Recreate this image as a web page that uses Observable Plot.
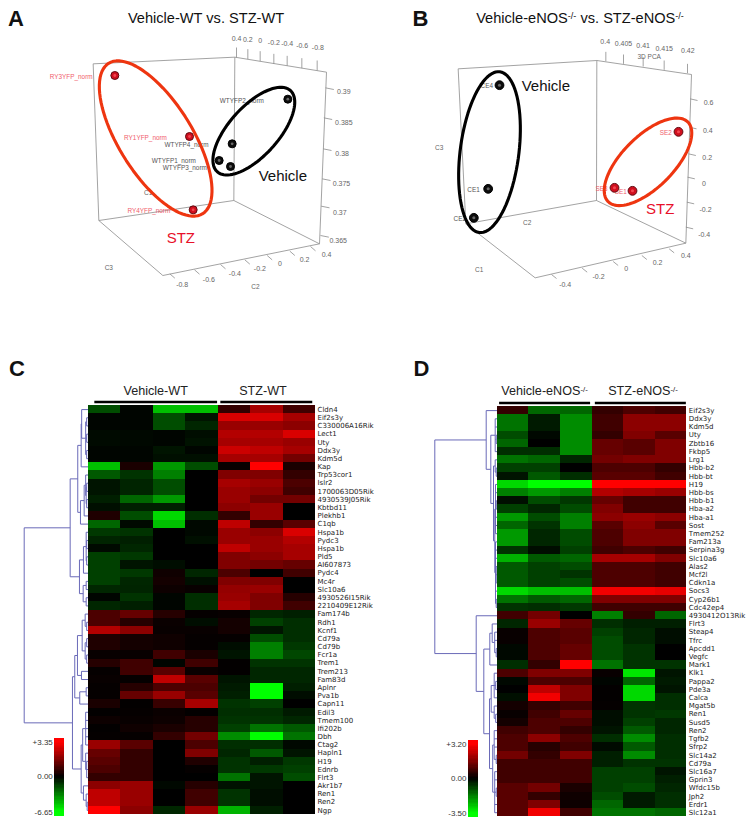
<!DOCTYPE html>
<html>
<head>
<meta charset="utf-8">
<script src="https://cdn.jsdelivr.net/npm/d3@7"></script>
<script src="https://cdn.jsdelivr.net/npm/@observablehq/plot@0.6"></script>
<style>
html,body{margin:0;padding:0;background:#fff;}
#page{position:relative;width:754px;height:825px;overflow:hidden;font-family:"Liberation Sans",Arial,sans-serif;color:#111;}
.t{position:absolute;white-space:nowrap;line-height:1;}
.letter{font-weight:bold;font-size:22px;color:#111;}
.title{font-size:14.6px;transform:translateX(-50%);}
.head{font-size:12.6px;transform:translateX(-50%);color:#222;}
sup{font-size:62%;line-height:0;vertical-align:baseline;position:relative;top:-.45em;}
svg{position:absolute;overflow:visible;}
</style>
</head>
<body>
<div id="page"></div>
<script>
// ---------- Panel C: expression levels, % of full colour (+ red / - green)
const cMin = -6.65, cMax = 3.35;
const cGenes = ["Cldn4","Eif2s3y","C330006A16Rik","Lect1","Uty","Ddx3y","Kdm5d","Kap","Trp53cor1","Islr2","1700063D05Rik","4930539J05Rik","Kbtbd11","Plekhb1","C1qb","Hspa1b","Pydc3","Hspa1b","Pld5","AI607873","Pydc4","Mc4r","Slc10a6","4930526I15Rik","2210409E12Rik","Fam174b","Rdh1","Kcnf1","Cd79a","Cd79b","Fcr1a","Trem1","Trem213","Fam83d","Aplnr","Pva1b","Capn11","Edil3","Tmem100","Ifi202b","Dbh","Ctag2","Hapln1","H19","Ednrb","Flrt3","Akr1b7","Ren1","Ren2","Ngp"];
const cLevels = [
[-30,-2,-75,-75,20,65,25],[-2,-2,-30,-8,85,85,65],[-2,-2,-30,-15,60,60,55],[-4,-3,-2,-5,70,70,85],[-4,-3,-2,-7,65,65,60],
[-2,-2,-8,-2,80,75,65],[-2,-2,-6,-6,65,65,45],[-75,10,-60,-30,3,100,10],[-35,-20,-50,0,50,50,20],[-8,-14,-30,0,65,60,30],
[-8,-14,-30,0,60,55,25],[-12,-40,-60,0,60,45,45],[-6,-12,-12,0,55,60,0],[12,-30,-85,-18,20,60,0],[-40,-4,-75,-3,75,20,35],
[-22,-20,0,-3,60,55,85],[-14,-12,0,-6,60,60,70],[-4,-15,0,0,75,60,65],[-25,-22,0,0,50,55,65],[-25,-8,-5,0,50,45,40],
[-25,-22,6,-15,30,0,25],[-25,-15,8,-6,50,50,0],[-15,-14,5,3,58,60,0],[-2,-20,-2,-18,60,50,15],[-15,-12,-2,-18,65,50,25],
[30,40,15,2,3,-15,-12],[30,15,4,-5,8,-25,-18],[70,55,3,3,8,-8,-18],[12,8,6,2,2,-30,-18],[12,8,6,2,-5,-50,-22],
[3,3,25,10,-8,-50,-28],[15,25,-2,25,1,-20,-20],[2,25,35,4,1,-15,-15],[3,2,75,35,-8,-15,-15],[2,15,30,30,-10,-100,-12],
[2,40,60,35,-12,-100,-5],[10,1,22,65,-20,-25,0],[1,2,4,1,-18,-18,-10],[5,3,5,15,-20,-20,-15],[1,6,10,15,-25,-45,-35],
[2,2,20,45,-55,-100,-45],[60,35,0,30,-18,-18,-3],[40,20,0,50,-15,-35,-8],[35,20,0,12,-20,-12,-22],[30,20,0,2,-20,-22,-25],
[20,20,0,0,-45,-8,-30],[55,60,-3,15,-7,-8,0],[75,60,0,25,-20,-5,0],[75,60,0,25,-20,-5,0],[100,55,-15,60,-70,-12,0]];
// nested clusters: [merge distance, ...children]; a number is a row
const cTree = [64,
 [18,
  [10.4,
   [7,[6.5,0,[2.5,[1.5,1,2],[1.5,3,4],[1.5,5,6]]],7],
   [7.7,[4,[2.5,8,[2,[1.5,9,10],[1.5,11,12]]],13],14]],
  [8.7,
   [4.7,[2,15,[1.5,16,17],[1.5,18,19]],20],
   [5,[2,21,22],[2,23,24]]]],
 [15.7,
  [13.4,
   [10.7,[6,[3,25,[1.5,26,27]],[3,[1.5,28,29],[1.5,30,31]]],[6.7,32,33]],
   [8.4,[2,34,35],36]],
  [7,
   [5.5,[2.5,37,38,39,40,41],[2.5,42,[1.5,43,44,45]]],
   [4.7,46,[2,47,[1,48,49]]]]]];

// ---------- Panel D
const dMin = -3.5, dMax = 3.2;
const dGenes = ["Eif2s3y","Ddx3y","Kdm5d","Uty","Zbtb16","Fkbp5","Lrg1","Hbb-b2","Hbb-bt","H19","Hbb-bs","Hbb-b1","Hba-a2","Hba-a1","Sost","Tmem252","Fam213a","Serpina3g","Slc10a6","Alas2","Mcf2l","Cdkn1a","Socs3","Cyp26b1","Cdc42ep4","4930412O13Rik","Flrt3","Steap4","Tfrc","Apcdd1","Vegfc","Mark1","Klk1","Pappa2","Pde3a","Calca","Mgat5b","Ren1","Susd5","Ren2","Tgfb2","Sfrp2","Slc14a2","Cd79a","Slc16a7","Gprin3","Wfdc15b","Jph2","Erdr1","Slc12a1"];
const dLevels = [
[20,-40,-40,20,30,25],[-45,-10,-55,25,55,55],[-45,-10,-55,25,55,55],[-30,-3,-55,20,50,35],[-40,0,-55,40,35,50],
[-18,-18,-55,40,35,50],[-45,-40,-15,45,50,50],[-25,-25,0,30,30,20],[-8,-35,-18,35,35,25],[-85,-100,-100,100,100,100],
[-50,-60,-50,70,65,60],[-6,-30,-22,40,25,25],[-25,-15,-30,50,25,25],[-60,-30,-50,55,60,55],[-40,-20,-50,35,55,35],
[-60,-15,-30,30,50,50],[-60,-15,-30,30,50,50],[-20,-5,-25,25,30,25],[-70,-35,-40,65,65,50],[-35,-25,-30,30,30,25],
[-35,-25,-20,30,30,25],[-35,-25,-30,30,30,25],[-85,-75,-75,95,95,90],[-45,-35,-40,50,50,50],[-20,-18,-22,25,25,25],
[25,45,0,-50,20,-40],[-15,60,40,-18,-12,-12],[3,30,35,-25,-15,-5],[3,30,35,-30,-15,-5],[-3,30,40,-30,-20,0],
[-3,30,40,-30,-20,0],[-18,20,100,-45,-20,-20],[30,50,50,3,-90,-8],[-3,30,30,-2,-40,-10],[0,75,50,1,-85,-8],
[-6,95,50,1,-85,-18],[8,20,25,2,-20,-18],[3,25,40,-5,-20,-22],[8,30,30,-5,-25,-15],[25,30,20,-8,-35,-15],
[30,55,30,-18,-55,-18],[30,15,25,-4,-35,-18],[45,20,50,-12,-55,-18],[25,25,25,-12,-20,-20],[25,25,25,-25,-25,-8],
[25,25,25,-25,-25,-12],[35,45,10,-25,-30,-15],[35,20,6,-30,-10,-18],[35,50,5,-40,-10,-18],[35,95,25,-45,-45,-40]];
const dTree = [62.4,
 [11,0,
  [6.4,
   [2,1,2,[1,3,4],5],
   [3.7,
    [2,6,[1,7,8]],
    [2.4,[1.7,9,10,[1,11,12],13,14,15],[1.7,16,17,18,[1,19,20,21],22,[1,23,24]]]]]],
 [21,25,
  [13.4,
   [7.4,[5,26,[2.5,27,28,[1,29,30]]],31],
   [7.7,
    [6,[3,32,[1.5,33,34],35],[3,36,[1.5,37,38]]],
    [4.5,[3,39,40,41,[1,42,43]],[2.5,44,45,[1,46,47],48,49]]]]]];

// ---------- Panels A and B: 3D PCA, read in projected scene units
const aRed = [["RY3YFP_norm",343,225],["RY1YFP_norm",567,408],["RY4YFP_norm",578,628]];
const aBlack = [["WTYFP2_norm",862,296],["WTYFP4_norm",695,430],["WTYFP1_norm",656,480],["WTYFP3_norm",690,498]];
const aLabels = [["RY3YFP_norm",212,229,"r"],["RY1YFP_norm",435,412,"r"],["RY4YFP_norm",445,632,"r"],["WTYFP2_norm",724,300,"k"],["WTYFP4_norm",558,433,"k"],["WTYFP1_norm",520,482,"k"],["WTYFP3_norm",553,503,"k"]];
const aBox = {TL:[278,190],TB:[703,170],TR:[978,215],BL:[295,660],BB:[700,600],BR:[957,730],F:[487,825]};
const aTop = [["0.4",708,171,708,115],["0.2",742,176,742,118],["0",779,182,779,122],["-0.2",820,190,820,127],["-0.4",860,196,860,131],["-0.6",904,203,905,135],["-0.8",950,210,952,141]];
const aRight = [["0.39",975,262,1030,273],["0.385",970,352,1030,367],["0.38",968,445,1025,460],["0.375",965,535,1023,549],["0.37",962,617,1018,637],["0.365",960,705,1013,722]];
const aBottom = [["-0.8",508,820,545,853],["-0.6",582,808,625,838],["-0.4",660,792,703,820],["-0.2",733,778,778,805],["0",800,765,838,790],["0.2",868,752,912,777],["0.4",930,738,978,762]];
const aAxisNames = [["C3",325,803],["C2",765,860],["C1",443,577]];
const aGroups = [["Vehicle",847,527,"k"],["STZ",541,712,"r"]];
const aRings = [[465.5,414,266,110,58,"r"],[760,392,164,74,-48,"k"]];

const bRed = [["SE2",903,394],["SE3",711,562],["SE1",765,571]];
const bBlack = [["CE4",366,254],["CE1",332,565],["CE2",289,652]];
const bLabels = [["CE4",328,257,"k"],["CE1",288,569,"k"],["CE2",247,656,"k"],["SE2",865,397,"r"],["SE3",672,565,"r"],["SE1",730,573,"r"]];
const bBox = {TL:[242,205],TB:[658,180],TR:[942,222],BL:[265,670],BB:[657,600],BR:[925,728],F:[473,832]};
const bTop = [["0.4",685,182,683,125],["0.405",738,190,738,131],["0.41",797,198,797,137],["0.415",860,208,860,145],["0.42",930,218,931,152]];
const bRight = [["0.6",938,295,993,308],["0.4",935,380,991,391],["0.2",933,460,989,471],["0",930,530,979,550],["-0.2",928,605,984,627],["-0.4",925,680,980,702]];
const bBottom = [["-0.4",522,822,563,852],["-0.2",614,803,663,829],["0",707,783,746,806],["0.2",793,765,840,786],["0.4",875,745,925,765]];
const bAxisNames = [["C3",185,443],["C2",449,668],["C1",305,808],["3D PCA",815,168]];
const bGroups = [["Vehicle",505,258,"k"],["STZ",848,625,"r"]];
const bRings = [[336,455,243,88,-82.7,"k"],[811.5,484,169,77,-45,"r"]];

// ---------- builders
const page = document.getElementById("page");
const SANS = '"Liberation Sans",Arial,sans-serif';
const ringColor = {r:"#ee3510",k:"#000"};

function place(svg,left,top){svg.style.position="absolute";svg.style.left=left+"px";svg.style.top=top+"px";svg.style.background="transparent";svg.style.maxWidth="none";svg.style.overflow="visible";page.appendChild(svg);}
function addText(cls,html,left,top){const d=document.createElement("div");d.className="t "+cls;d.innerHTML=html;d.style.left=left+"px";d.style.top=top+"px";page.appendChild(d);}

function ringPoints([cx,cy,a,b,deg,key]){
  const th=deg*Math.PI/180;
  return d3.range(0,361,4).map(t=>{const u=t*Math.PI/180,p=a*Math.cos(u),q=b*Math.sin(u);
    return {x:cx+p*Math.cos(th)-q*Math.sin(th),y:cy+p*Math.sin(th)+q*Math.cos(th),key};});
}
function scene(c,left){
  const {TL,TB,TR,BL,BB,BR,F}=c.box;
  const edges=[[TL,TB],[TB,TR],[TR,BR],[TB,BB],[TL,BL],[BL,BB],[BB,BR],[BL,F],[F,BR]];
  const tickSegs=(arr,v)=>arr.map(([,x,y])=>[[x,y],[x+v[0],y+v[1]]]);
  const segs=edges.concat(tickSegs(c.top,c.topVec),tickSegs(c.right,c.rightVec),tickSegs(c.bottom,c.bottomVec));
  const tickLabels=[...c.top,...c.right,...c.bottom];
  const dot=(rows,fill,stroke,inner,r)=>[
    Plot.dot(rows,{x:d=>d[1],y:d=>d[2],r,fill,stroke,strokeWidth:1}),
    Plot.dot(rows,{x:d=>d[1],y:d=>d[2],r:r*0.35,fill:inner})];
  const svg=Plot.plot({
    width:377,height:300,margin:0,
    x:{domain:[0,1131],axis:null},y:{domain:[900,0],axis:null},
    style:{fontFamily:SANS,background:"transparent"},
    marks:[
      Plot.link(segs,{x1:d=>d[0][0],y1:d=>d[0][1],x2:d=>d[1][0],y2:d=>d[1][1],stroke:"#8c8c8c",strokeWidth:0.8}),
      Plot.text(tickLabels,{x:d=>d[3],y:d=>d[4],text:d=>d[0],fontSize:7,fill:"#666"}),
      Plot.text(c.axisNames,{x:d=>d[1],y:d=>d[2],text:d=>d[0],fontSize:6.5,fill:"#666"}),
      Plot.text(c.labels,{x:d=>d[1],y:d=>d[2],text:d=>d[0],fontSize:6.4,fill:d=>d[3]==="r"?"#f0606c":"#555"}),
      ...dot(c.red,"#d00f1e","#5e0a10","#f24650",c.r),
      ...dot(c.black,"#0c0c0c","#000","#666",c.r),
      ...c.rings.map(r=>Plot.line(ringPoints(r),{x:"x",y:"y",stroke:ringColor[r[5]],strokeWidth:3.1})),
      Plot.text(c.groups,{x:d=>d[1],y:d=>d[2],text:d=>d[0],fontSize:15,fill:d=>d[3]==="r"?"#e8102a":"#111"})
    ]});
  place(svg,left,0);
}

function treeSegments(tree,colW){
  const segs=[];
  const X=d=>-d/colW;
  (function walk(n){
    if(typeof n==="number") return {y:n+.5,d:0};
    const [d,...kids]=n;
    const r=kids.map(walk);
    r.forEach(k=>segs.push({x1:X(d),y1:k.y,x2:X(k.d),y2:k.y}));
    const y1=r[0].y,y2=r[r.length-1].y;
    segs.push({x1:X(d),y1,x2:X(d),y2});
    return {y:(y1+y2)/2,d};
  })(tree);
  return segs;
}
function heatmap(c){
  const val=s=>s>0?s/100*c.max:s/100*-c.min;
  const cells=c.levels.flatMap((row,r)=>row.map((s,k)=>({r,k,v:val(s)})));
  const maxD=c.tree[0];
  const svg=Plot.plot({
    width:c.width,height:c.height,marginTop:c.mt,marginBottom:c.mb,marginLeft:c.ml,marginRight:c.mr,
    x:{domain:[-maxD/c.colW,c.levels[0].length],axis:null},
    y:{domain:[0,c.genes.length],reverse:true,axis:null},
    color:{type:"linear",domain:[c.min,0,c.max],range:["#00ff00","#000000","#ff0000"],interpolate:"rgb"},
    style:{fontFamily:'"DejaVu Sans",sans-serif',background:"transparent"},
    marks:[
      Plot.link(treeSegments(c.tree,c.colW),{x1:"x1",y1:"y1",x2:"x2",y2:"y2",stroke:"#6a6ab8",strokeWidth:1}),
      Plot.rect(cells,{x1:"k",x2:d=>d.k+1,y1:"r",y2:d=>d.r+1,fill:"v",shapeRendering:"crispEdges"}),
      Plot.axisY(c.genes.map((_,i)=>i+.5),{anchor:"right",tickSize:0,tickPadding:2,tickFormat:v=>c.genes[Math.floor(v)],fontSize:7,fill:"#222",label:null}),
      Plot.link(c.bars,{x1:d=>d[0],x2:d=>d[1],y1:-0.42,y2:-0.42,stroke:"#000",strokeWidth:2.6})
    ]});
  place(svg,c.left,c.top);
}
function legend(c){
  const steps=30;
  const over=c.over,under=c.under;
  const pos=d3.range(steps).map(i=>({a:(c.max+over)*i/steps,b:(c.max+over)*(i+1)/steps}));
  const neg=d3.range(steps).map(i=>({a:(c.min-under)*i/steps,b:(c.min-under)*(i+1)/steps}));
  const fmt=new Map(c.ticks.map(t=>[t[0],t[1]]));
  const svg=Plot.plot({
    width:c.barRight-c.left,height:95,marginLeft:c.barLeft-c.left,marginRight:0,
    x:{domain:[0,1],axis:null},
    y:{type:"linear",domain:[c.min,0,c.max],range:c.range,axis:null},
    color:{type:"linear",domain:[c.min,0,c.max],range:["#00ff00","#000000","#ff0000"],interpolate:"rgb",clamp:true},
    style:{fontFamily:SANS,background:"transparent"},
    marks:[
      Plot.rect(pos.concat(neg),{x1:0,x2:1,y1:"a",y2:"b",fill:d=>(d.a+d.b)/2,shapeRendering:"crispEdges"}),
      Plot.axisY(c.ticks.map(t=>t[0]),{anchor:"left",tickSize:0,tickPadding:2,tickFormat:v=>fmt.get(v),fontSize:8,fill:"#333",label:null})
    ]});
  place(svg,c.left,c.top);
}

// ---------- draw
scene({box:aBox,top:aTop,right:aRight,bottom:aBottom,topVec:[0,-30],rightVec:[25,5],bottomVec:[15,13],axisNames:aAxisNames,labels:aLabels,red:aRed,black:aBlack,rings:aRings,groups:aGroups,r:4},0);
scene({box:bBox,top:bTop,right:bRight,bottom:bBottom,topVec:[0,-28],rightVec:[22,5],bottomVec:[15,12],axisNames:bAxisNames,labels:bLabels,red:bRed,black:bBlack,rings:bRings,groups:bGroups,r:4.4},377);

heatmap({left:0,top:390,width:377,height:435,mt:15,mb:11,ml:23.7,mr:62,colW:32.5,min:cMin,max:cMax,genes:cGenes,levels:cLevels,tree:cTree,bars:[[0.19,3.97],[4.07,6.9]]});
heatmap({left:377,top:391,width:377,height:434,mt:15,mb:8.7,ml:57.3,mr:67.7,colW:31.6,min:dMin,max:dMax,genes:dGenes,levels:dLevels,tree:dTree,bars:[[0.06,2.94],[3.09,5.97]]});

legend({left:0,top:730,barLeft:54.3,barRight:64,min:cMin,max:cMax,over:0.39,under:0.75,range:[81.7,46.3,12.3],ticks:[[cMax,"+3.35"],[0,"0.00"],[cMin,"-6.65"]]});
legend({left:420,top:730,barLeft:468,barRight:477.7,min:dMin,max:dMax,over:0.4,under:0.4,range:[83.3,48.3,14],ticks:[[dMax,"+3.20"],[0,"0.00"],[dMin,"-3.50"]]});

addText("letter","A",8,8);
addText("letter","B",412.5,8);
addText("letter","C",9,358);
addText("letter","D",413.5,358);
addText("title","Vehicle-WT vs. STZ-WT",206,11);
addText("title","Vehicle-eNOS<sup>-/-</sup> vs. STZ-eNOS<sup>-/-</sup>",580,11);
addText("head","Vehicle-WT",155.7,385);
addText("head","STZ-WT",263,385);
addText("head","Vehicle-eNOS<sup>-/-</sup>",544.5,385);
addText("head","STZ-eNOS<sup>-/-</sup>",643,385);
</script>
</body>
</html>
